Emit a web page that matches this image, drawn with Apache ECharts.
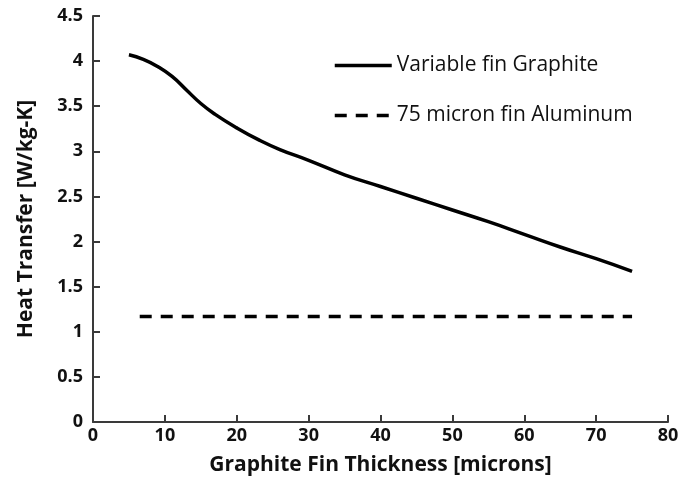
<!DOCTYPE html>
<html>
<head>
<meta charset="utf-8">
<script src="https://cdn.jsdelivr.net/npm/echarts@6/dist/echarts.min.js"></script>
<style>
  html, body { margin: 0; padding: 0; background: #fff; }
  #chart { width: 694px; height: 481px; }
</style>
</head>
<body>
<div id="chart"></div>
<script>
// Fin thickness (microns) and heat transfer per mass for the graphite fin
const graphiteThickness = [5, 7, 9, 11, 13, 15, 17, 20, 23, 26, 30, 35, 40, 45, 50, 55, 60, 65, 70, 75];
const graphiteHeat = [4.07, 4.02, 3.94, 3.83, 3.68, 3.53, 3.41, 3.26, 3.13, 3.02, 2.90, 2.74, 2.61, 2.48, 2.35, 2.22, 2.08, 1.94, 1.81, 1.67];

// Reference: fixed 75 micron aluminum fin, drawn across the thickness range
const aluminumThickness = [6.5, 75];
const aluminumHeat = [1.17, 1.17];

const seriesNames = ['Variable fin Graphite', '75 micron fin Aluminum'];

const font = '"Open Sans", sans-serif';
const axisColor = '#3a3a3a';
const dashPattern = [12, 9];

const chart = echarts.init(document.getElementById('chart'), null, { renderer: 'canvas' });

chart.setOption({
  animation: false,
  backgroundColor: '#ffffff',
  grid: { left: 93, right: 26, top: 16, bottom: 59 },
  legend: {
    left: 333,
    top: 55,
    padding: 0,
    orient: 'vertical',
    itemWidth: 57,
    itemHeight: 14,
    itemGap: 29,
    data: [
      { name: seriesNames[0], lineStyle: { width: 3.5, color: '#000' } },
      { name: seriesNames[1], lineStyle: { width: 3.5, color: '#000', type: dashPattern } }
    ],
    itemStyle: { opacity: 0 },
    textStyle: { fontFamily: font, fontSize: 21, color: '#111' }
  },
  xAxis: {
    type: 'value',
    min: 0,
    max: 80,
    interval: 10,
    name: 'Graphite Fin Thickness [microns]',
    nameLocation: 'middle',
    nameGap: 33,
    nameTextStyle: { fontFamily: font, fontSize: 21, fontWeight: 'bold', color: '#111' },
    axisLine: { show: true, lineStyle: { color: axisColor, width: 2 } },
    axisTick: { show: true, inside: true, length: 7, lineStyle: { color: axisColor, width: 2 } },
    axisLabel: { fontFamily: font, fontSize: 18, fontWeight: 'bold', color: '#111', margin: 5 },
    splitLine: { show: false }
  },
  yAxis: {
    type: 'value',
    min: 0,
    max: 4.5,
    interval: 0.5,
    name: 'Heat Transfer [W/kg-K]',
    nameLocation: 'middle',
    nameGap: 56,
    nameTextStyle: { fontFamily: font, fontSize: 21, fontWeight: 'bold', color: '#111' },
    axisLine: { show: true, lineStyle: { color: axisColor, width: 2 } },
    axisTick: { show: true, inside: true, length: 7, lineStyle: { color: axisColor, width: 2 } },
    axisLabel: { fontFamily: font, fontSize: 18, fontWeight: 'bold', color: '#111', margin: 10 },
    splitLine: { show: false }
  },
  series: [
    {
      name: seriesNames[0],
      type: 'line',
      smooth: 0.5,
      symbol: 'none',
      data: graphiteThickness.map((t, i) => [t, graphiteHeat[i]]),
      lineStyle: { color: '#000', width: 3.5 },
      itemStyle: { color: '#000' }
    },
    {
      name: seriesNames[1],
      type: 'line',
      symbol: 'none',
      data: aluminumThickness.map((t, i) => [t, aluminumHeat[i]]),
      lineStyle: { color: '#000', width: 3.5, type: dashPattern },
      itemStyle: { color: '#000' }
    }
  ]
});
</script>
</body>
</html>
